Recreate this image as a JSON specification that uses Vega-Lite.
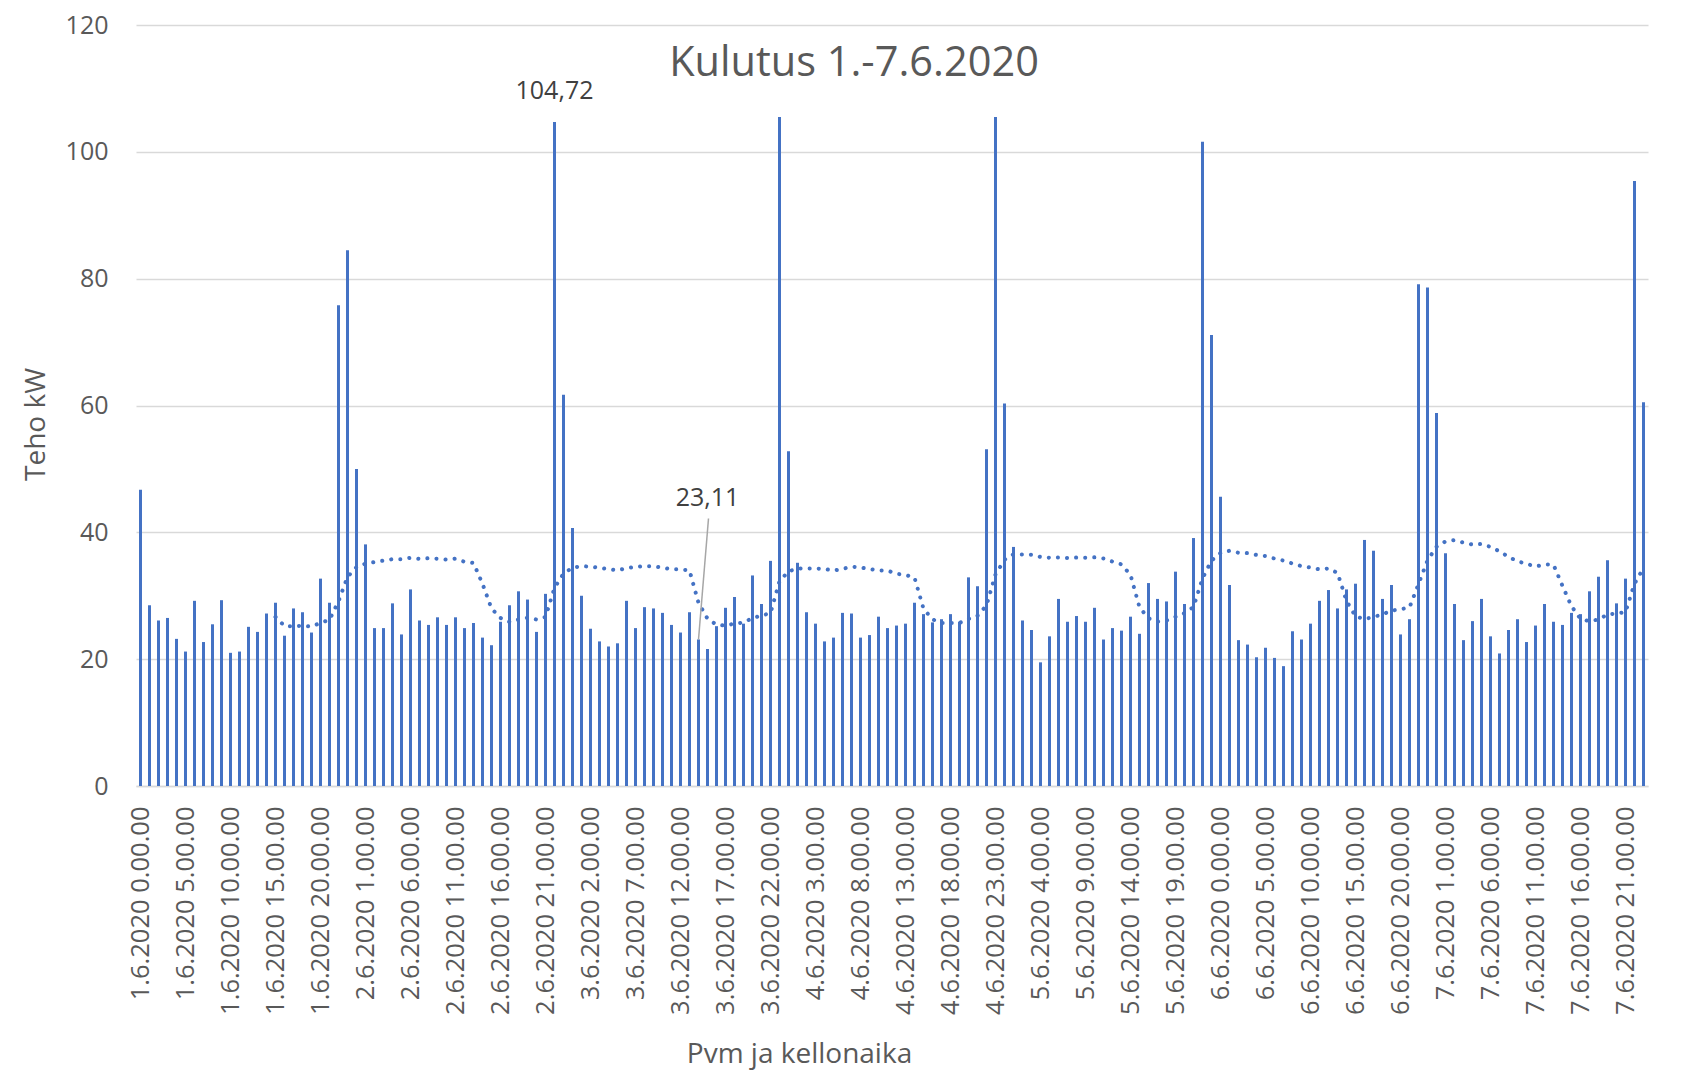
{
  "$schema": "https://vega.github.io/schema/vega-lite/v6.json",
  "width": 1512,
  "height": 761,
  "autosize": {"type": "none"},
  "padding": {"left": 136, "top": 25, "right": 47, "bottom": 291},
  "background": "white",
  "config": {
    "font": "Open Sans",
    "view": {"stroke": null},
    "axis": {"labelFont": "Open Sans", "titleFont": "Open Sans"}
  },
  "title": {
    "text": "Kulutus 1.-7.6.2020",
    "fontSize": 41.5,
    "font": "Open Sans",
    "fontWeight": "normal",
    "color": "#595959",
    "anchor": "middle",
    "dx": -38,
    "offset": -71
  },
  "datasets": {
    "kulutus": [
      {"h":0,"kW":46.7},{"h":1,"kW":28.5},{"h":2,"kW":26.1},{"h":3,"kW":26.5},{"h":4,"kW":23.2},{"h":5,"kW":21.2},{"h":6,"kW":29.2},{"h":7,"kW":22.7},{"h":8,"kW":25.5},{"h":9,"kW":29.3},{"h":10,"kW":21.0},{"h":11,"kW":21.2},{"h":12,"kW":25.1},{"h":13,"kW":24.3},{"h":14,"kW":27.2},{"h":15,"kW":28.9},{"h":16,"kW":23.7},{"h":17,"kW":28.0},{"h":18,"kW":27.4},{"h":19,"kW":24.2},{"h":20,"kW":32.7},{"h":21,"kW":28.9},{"h":22,"kW":75.8},{"h":23,"kW":84.5},
      {"h":24,"kW":50.0},{"h":25,"kW":38.1},{"h":26,"kW":24.9},{"h":27,"kW":24.9},{"h":28,"kW":28.8},{"h":29,"kW":23.9},{"h":30,"kW":31.0},{"h":31,"kW":26.1},{"h":32,"kW":25.4},{"h":33,"kW":26.6},{"h":34,"kW":25.4},{"h":35,"kW":26.6},{"h":36,"kW":24.9},{"h":37,"kW":25.7},{"h":38,"kW":23.4},{"h":39,"kW":22.2},{"h":40,"kW":25.9},{"h":41,"kW":28.5},{"h":42,"kW":30.7},{"h":43,"kW":29.4},{"h":44,"kW":24.3},{"h":45,"kW":30.3},{"h":46,"kW":104.72},{"h":47,"kW":61.7},
      {"h":48,"kW":40.7},{"h":49,"kW":30.0},{"h":50,"kW":24.8},{"h":51,"kW":22.8},{"h":52,"kW":22.0},{"h":53,"kW":22.5},{"h":54,"kW":29.2},{"h":55,"kW":24.9},{"h":56,"kW":28.2},{"h":57,"kW":28.0},{"h":58,"kW":27.3},{"h":59,"kW":25.4},{"h":60,"kW":24.2},{"h":61,"kW":27.4},{"h":62,"kW":23.11},{"h":63,"kW":21.6},{"h":64,"kW":25.2},{"h":65,"kW":28.1},{"h":66,"kW":29.8},{"h":67,"kW":25.6},{"h":68,"kW":33.2},{"h":69,"kW":28.7},{"h":70,"kW":35.5},{"h":71,"kW":105.5},
      {"h":72,"kW":52.8},{"h":73,"kW":35.2},{"h":74,"kW":27.4},{"h":75,"kW":25.6},{"h":76,"kW":22.8},{"h":77,"kW":23.4},{"h":78,"kW":27.3},{"h":79,"kW":27.2},{"h":80,"kW":23.4},{"h":81,"kW":23.8},{"h":82,"kW":26.7},{"h":83,"kW":24.9},{"h":84,"kW":25.3},{"h":85,"kW":25.6},{"h":86,"kW":28.9},{"h":87,"kW":27.1},{"h":88,"kW":25.8},{"h":89,"kW":26.3},{"h":90,"kW":27.1},{"h":91,"kW":25.9},{"h":92,"kW":32.9},{"h":93,"kW":31.5},{"h":94,"kW":53.1},{"h":95,"kW":105.5},
      {"h":96,"kW":60.3},{"h":97,"kW":37.7},{"h":98,"kW":26.1},{"h":99,"kW":24.6},{"h":100,"kW":19.5},{"h":101,"kW":23.6},{"h":102,"kW":29.5},{"h":103,"kW":25.9},{"h":104,"kW":26.8},{"h":105,"kW":25.9},{"h":106,"kW":28.1},{"h":107,"kW":23.1},{"h":108,"kW":24.9},{"h":109,"kW":24.5},{"h":110,"kW":26.7},{"h":111,"kW":24.0},{"h":112,"kW":32.0},{"h":113,"kW":29.5},{"h":114,"kW":29.1},{"h":115,"kW":33.8},{"h":116,"kW":28.7},{"h":117,"kW":39.1},{"h":118,"kW":101.6},{"h":119,"kW":71.1},
      {"h":120,"kW":45.6},{"h":121,"kW":31.7},{"h":122,"kW":23.0},{"h":123,"kW":22.3},{"h":124,"kW":20.3},{"h":125,"kW":21.8},{"h":126,"kW":20.2},{"h":127,"kW":18.9},{"h":128,"kW":24.4},{"h":129,"kW":23.1},{"h":130,"kW":25.6},{"h":131,"kW":29.2},{"h":132,"kW":30.9},{"h":133,"kW":28.0},{"h":134,"kW":31.0},{"h":135,"kW":31.9},{"h":136,"kW":38.8},{"h":137,"kW":37.1},{"h":138,"kW":29.5},{"h":139,"kW":31.7},{"h":140,"kW":23.9},{"h":141,"kW":26.3},{"h":142,"kW":79.1},{"h":143,"kW":78.6},
      {"h":144,"kW":58.8},{"h":145,"kW":36.7},{"h":146,"kW":28.7},{"h":147,"kW":23.0},{"h":148,"kW":26.0},{"h":149,"kW":29.5},{"h":150,"kW":23.6},{"h":151,"kW":20.9},{"h":152,"kW":24.6},{"h":153,"kW":26.3},{"h":154,"kW":22.7},{"h":155,"kW":25.3},{"h":156,"kW":28.7},{"h":157,"kW":25.9},{"h":158,"kW":25.4},{"h":159,"kW":27.3},{"h":160,"kW":27.1},{"h":161,"kW":30.7},{"h":162,"kW":33.0},{"h":163,"kW":35.6},{"h":164,"kW":28.8},{"h":165,"kW":32.7},{"h":166,"kW":95.4},{"h":167,"kW":60.5}
    ],
    "notes": [
      {"h":46,"kW":104.72,"label":"104,72"},
      {"h":62,"kW":23.11,"label":"23,11"}
    ]
  },
  "data": {"name": "kulutus"},
  "encoding": {
    "x": {
      "field": "h",
      "type": "ordinal",
      "scale": {"paddingInner": 0, "paddingOuter": 0},
      "axis": {
        "values": [0,5,10,15,20,25,30,35,40,45,50,55,60,65,70,75,80,85,90,95,100,105,110,115,120,125,130,135,140,145,150,155,160,165],
        "labelExpr": "(floor(datum.value/24)+1) + '.6.2020 ' + (datum.value%24) + '.00.00'",
        "labelAngle": 270,
        "labelAlign": "right",
        "labelBaseline": "middle",
        "labelFontSize": 25.5,
        "labelColor": "#595959",
        "labelPadding": 20,
        "labelLimit": 0,
        "labelOverlap": false,
        "ticks": false,
        "domainColor": "#d9d9d9",
        "domainWidth": 1.5,
        "grid": false,
        "title": "Pvm ja kellonaika",
        "titleFontSize": 28,
        "titleFontWeight": "normal",
        "titleColor": "#595959",
        "titleX": 663,
        "titleY": 268,
        "titleAlign": "center",
        "titleBaseline": "middle"
      }
    }
  },
  "layer": [
    {
      "mark": {"type": "bar", "width": 3, "color": "#4472C4"},
      "encoding": {
        "y": {
          "field": "kW",
          "type": "quantitative",
          "scale": {"domain": [0, 120]},
          "axis": {
            "values": [0,20,40,60,80,100,120],
            "labelFontSize": 25,
            "labelColor": "#595959",
            "labelPadding": 28,
            "ticks": false,
            "domain": false,
            "grid": true,
            "gridColor": "#d9d9d9",
            "gridWidth": 1.5,
            "title": "Teho kW",
            "titleFontSize": 28,
            "titleFontWeight": "normal",
            "titleColor": "#595959",
            "titleAngle": 270,
            "titleX": -100,
            "titleY": 399,
            "titleAlign": "center",
            "titleBaseline": "middle"
          }
        }
      }
    },
    {
      "transform": [
        {"window": [{"op": "mean", "field": "kW", "as": "ma"}], "frame": [-15, 0], "sort": [{"field": "h"}]},
        {"filter": "datum.h >= 15"}
      ],
      "mark": {"type": "line", "color": "#4472C4", "strokeWidth": 4, "strokeDash": [0.1, 9], "strokeCap": "round"},
      "encoding": {
        "y": {"field": "ma", "type": "quantitative", "title": "Teho kW"}
      }
    },
    {
      "data": {"name": "notes"},
      "transform": [{"filter": "datum.h == 62"}],
      "mark": {"type": "rule", "color": "#a6a6a6", "strokeWidth": 1.5, "x2Offset": 10, "y2Offset": -121},
      "encoding": {
        "x2": {"field": "h"},
        "y": {"field": "kW", "type": "quantitative", "title": "Teho kW"},
        "y2": {"field": "kW"}
      }
    },
    {
      "data": {"name": "notes"},
      "transform": [{"filter": "datum.h == 46"}],
      "mark": {"type": "text", "fontSize": 25, "color": "#404040", "dy": -31, "baseline": "middle", "align": "center"},
      "encoding": {
        "y": {"field": "kW", "type": "quantitative", "title": "Teho kW"},
        "text": {"field": "label"}
      }
    },
    {
      "data": {"name": "notes"},
      "transform": [{"filter": "datum.h == 62"}],
      "mark": {"type": "text", "fontSize": 25, "color": "#404040", "dx": 9, "dy": -141, "baseline": "middle", "align": "center"},
      "encoding": {
        "y": {"field": "kW", "type": "quantitative", "title": "Teho kW"},
        "text": {"field": "label"}
      }
    }
  ]
}
